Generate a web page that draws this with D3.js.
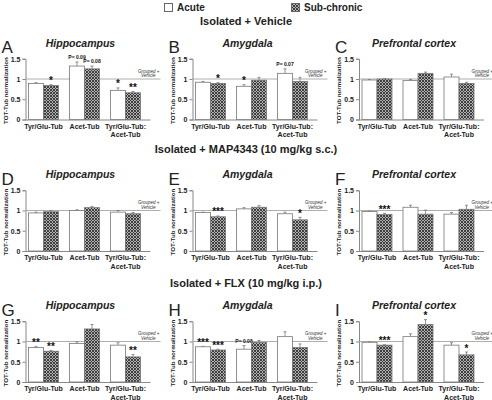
<!DOCTYPE html>
<html><head><meta charset="utf-8">
<script src="https://cdn.jsdelivr.net/npm/d3@7"></script>
<style>body{margin:0;background:#fff}svg{display:block;font-family:Arial,"Liberation Sans",sans-serif}</style>
</head><body><svg id="c" width="492" height="400"></svg>
<script>
const groups = ["Tyr/Glu-Tub", "Acet-Tub", "Tyr/Glu-Tub:|Acet-Tub"];
const seriesNames = ["Acute", "Sub-chronic"];
const yTicks = [0, 0.5, 1, 1.5];
const sections = ["Isolated + Vehicle", "Isolated + MAP4343 (10 mg/kg s.c.)", "Isolated + FLX (10 mg/kg i.p.)"];
const regions = ["Hippocampus", "Amygdala", "Prefrontal cortex"];
const letters = ["A","B","C","D","E","F","G","H","I"];
// per panel (A..I), per group
const acuteMean = [
  [0.89, 1.32, 0.72], [0.92, 0.82, 1.14], [0.975, 0.96, 1.05],
  [0.94, 1.0, 0.96], [0.95, 1.04, 0.92], [0.975, 1.08, 0.91],
  [0.85, 0.95, 0.91], [0.87, 0.81, 1.12], [0.98, 1.12, 0.91]
];
const acuteErr = [
  [0.02, 0.10, 0.06], [0.02, 0.04, 0.11], [0.01, 0.03, 0.07],
  [0.02, 0.02, 0.04], [0.01, 0.03, 0.04], [0.01, 0.05, 0.04],
  [0.03, 0.04, 0.06], [0.01, 0.09, 0.12], [0.01, 0.07, 0.06]
];
const subMean = [
  [0.84, 1.25, 0.66], [0.89, 0.97, 0.94], [1.0, 1.14, 0.89],
  [0.97, 1.07, 0.92], [0.845, 1.08, 0.77], [0.9, 0.91, 1.03],
  [0.76, 1.31, 0.62], [0.79, 0.975, 0.85], [0.91, 1.42, 0.67]
];
const subErr = [
  [0.02, 0.07, 0.03], [0.02, 0.07, 0.10], [0.01, 0.03, 0.03],
  [0.03, 0.03, 0.03], [0.02, 0.04, 0.06], [0.03, 0.10, 0.10],
  [0.02, 0.11, 0.06], [0.02, 0.05, 0.09], [0.01, 0.12, 0.07]
];
const acuteMarks = [
  ["", "P= 0.09", "*"], ["", "*", "P= 0.07"], ["", "", ""],
  ["", "", ""], ["", "", ""], ["", "", ""],
  ["**", "", ""], ["***", "P= 0.08", ""], ["", "", ""]
];
const subMarks = [
  ["*", "P= 0.08", "**"], ["*", "", ""], ["", "", ""],
  ["", "", ""], ["***", "", "*"], ["***", "", ""],
  ["**", "", "**"], ["***", "", ""], ["***", "*", "*"]
];

const svg = d3.select("#c");
const defs = svg.append("defs");
const pat = defs.append("pattern").attr("id","hatch").attr("patternUnits","userSpaceOnUse")
  .attr("width",3).attr("height",3);
pat.append("rect").attr("width",3).attr("height",3).attr("fill","#b0b0b0");
pat.append("path").attr("d","M0,0 L3,3 M3,0 L0,3").attr("stroke","#333").attr("stroke-width",0.9);

// Legend
const leg = svg.append("g");
leg.append("rect").attr("x",164.5).attr("y",3.5).attr("width",8).attr("height",8).attr("fill","#fff").attr("stroke","#666");
leg.append("text").attr("x",177).attr("y",11).attr("font-size",10).attr("font-weight","bold").attr("fill","#222").text(seriesNames[0]);
leg.append("rect").attr("x",291.5).attr("y",3.5).attr("width",8).attr("height",8).attr("fill","url(#hatch)").attr("stroke","#666");
leg.append("text").attr("x",304).attr("y",11).attr("font-size",10).attr("font-weight","bold").attr("fill","#222").text(seriesNames[1]);

const sectionY = [25, 153, 287];
sections.forEach((s,i)=>{
  svg.append("text").attr("x",246).attr("y",sectionY[i]).attr("text-anchor","middle")
    .attr("font-size",11).attr("font-weight","bold").attr("fill","#222").text(s);
});

const rowZero = [119.5, 251, 382];
const colAxis = [25.5, 192.5, 359];
const unit = 40.5;

for (let p = 0; p < 9; p++) {
  const r = Math.floor(p/3), c = p % 3;
  const ax = colAxis[c], z = rowZero[r];
  const g = svg.append("g");
  const y = d3.scaleLinear().domain([0,1.5]).range([z, z - 1.5*unit]);
  const x = d3.scaleBand().domain(groups).range([ax+3, ax+3+112]).paddingInner(11/41).paddingOuter(0);
  const xs = d3.scaleBand().domain(seriesNames).range([0, x.bandwidth()]).padding(0);

  // letter & title
  g.append("text").attr("x", ax - 24).attr("y", z - 66.5).attr("font-size",17).attr("fill","#222").text(letters[p]);
  g.append("text").attr("x", ax + 55).attr("y", z - 73).attr("text-anchor","middle").attr("font-size",10.5)
    .attr("font-weight","bold").attr("font-style","italic").attr("fill","#222").text(regions[c]);

  // y axis
  const yAxis = d3.axisLeft(y).tickValues(yTicks).tickSize(3).tickFormat(d=>d===0?"0":String(d));
  const ya = g.append("g").attr("transform",`translate(${ax},0)`).call(yAxis);
  ya.select(".domain").attr("stroke","#888");
  ya.selectAll(".tick line").attr("stroke","#888");
  ya.selectAll(".tick text").attr("font-size",7).attr("font-weight","bold").attr("fill","#222").attr("x",-5);
  g.append("text").attr("transform",`translate(${ax-18},${z-29}) rotate(-90)`).attr("text-anchor","middle")
    .attr("font-size",6.2).attr("font-weight","bold").attr("fill","#222").text("TOT-Tub normalization");

  // x axis line
  g.append("line").attr("x1",ax).attr("x2",ax+125).attr("y1",z+0.5).attr("y2",z+0.5).attr("stroke","#888");
  // x labels
  groups.forEach((gr)=>{
    const cx = x(gr) + x.bandwidth()/2;
    gr.split("|").forEach((ln,k)=>{
      g.append("text").attr("x",cx).attr("y",z+9+k*8.5).attr("text-anchor","middle").attr("font-size",7)
        .attr("font-weight","bold").attr("fill","#222").text(ln);
    });
  });

  // ref line
  g.append("line").attr("x1",ax).attr("x2",ax+135).attr("y1",y(1)).attr("y2",y(1)).attr("stroke","#999").attr("stroke-width",0.8);
  g.append("text").attr("x",ax+134).attr("y",y(1)-6.5).attr("text-anchor","end").attr("font-size",4.5)
    .attr("font-style","italic").attr("fill","#333").text("Grouped +");
  g.append("text").attr("x",ax+130).attr("y",y(1)-2).attr("text-anchor","end").attr("font-size",4.5)
    .attr("font-style","italic").attr("fill","#333").text("Vehicle");

  const series = [
    {name: seriesNames[0], mean: acuteMean[p], err: acuteErr[p], marks: acuteMarks[p], fill: "#fff"},
    {name: seriesNames[1], mean: subMean[p], err: subErr[p], marks: subMarks[p], fill: "url(#hatch)"}
  ];
  series.forEach(s=>{
    groups.forEach((gr,i)=>{
      const bx = x(gr) + xs(s.name), bw = xs.bandwidth();
      const cx = bx + bw/2;
      const top = y(s.mean[i] + s.err[i]);
      g.append("line").attr("x1",cx).attr("x2",cx).attr("y1",y(s.mean[i])).attr("y2",top).attr("stroke","#777").attr("stroke-width",0.8);
      g.append("line").attr("x1",cx-1.5).attr("x2",cx+1.5).attr("y1",top).attr("y2",top).attr("stroke","#777").attr("stroke-width",0.8);
      g.append("rect").attr("x",bx).attr("y",y(s.mean[i])).attr("width",bw).attr("height",z - y(s.mean[i]))
        .attr("fill",s.fill).attr("stroke","#777").attr("stroke-width",0.8);
      const m = s.marks[i];
      if (m) {
        const isP = m.startsWith("P");
        g.append("text").attr("x",cx).attr("y", top - (isP?3:0.5)).attr("text-anchor","middle")
          .attr("font-size", isP?5:10).attr("font-weight","bold").attr("fill","#111").text(m);
      }
    });
  });
}
</script></body></html>
